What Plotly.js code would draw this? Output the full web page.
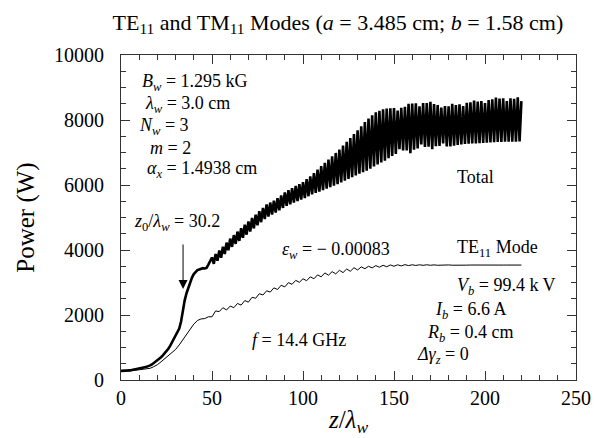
<!DOCTYPE html>
<html>
<head>
<meta charset="utf-8">
<script src="https://cdn.plot.ly/plotly-3.0.1.min.js"></script>
<style>html,body{margin:0;padding:0;background:#fff;}#chart{width:595px;height:438px;}</style>
</head>
<body>
<div id="chart"></div>
<script>
// Total power (W), sampled every 1 unit of z/lambda_w starting at 0
const totalStart = 0;
const totalStep = 1;
const totalPower = [
280,280,278,278,285,295,310,325,340,355,
365,375,385,395,405,420,450,480,520,560,
600,650,700,760,820,880,960,1050,1150,1250,
1340,1450,1580,1800,2150,2450,2670,2850,3000,3150,
3260,3330,3380,3400,3420,3440,3430,3450,3550,3650,
3770,3576,3878,3668,3986,3760,4102,3876,4226,3992,
4350,4096,4458,4188,4566,4280,4672,4376,4776,4472,
4880,4568,4984,4664,5088,4760,5192,4856,5296,4952,
5400,5030,5460,5090,5520,5150,5594,5222,5682,5294,
5770,5356,5838,5408,5906,5460,5970,5504,6030,5548,
6090,5598,6178,5654,6266,5710,6364,5754,6472,5798,
6580,5842,6680,5886,6780,5930,6882,5978,6986,6026,
7090,6078,7210,6134,7330,6190,7448,6242,7564,6294,
7680,6344,7808,6392,7936,6440,8048,6504,8144,6568,
8240,6630,8284,6690,8328,6750,8354,6822,8362,6894,
8370,6956,8290,7100,8378,7060,8406,7064,8500,6980,
8510,7088,8514,7124,8420,7250,8520,7168,8520,7176,
8560,7100,8488,7192,8456,7200,8380,7280,8428,7184,
8420,7190,8500,7208,8462,7230,8482,7246,8430,7262,
8530,7272,8542,7276,8600,7280,8568,7288,8584,7296,
8520,7304,8616,7312,8634,7320,8690,7324,8658,7328,
8670,7330,8580,7330,8670,7330,8650,7330,8700,7340,
8580
];
// TE11 mode power (W), sampled every 2 units of z/lambda_w starting at 0
const te11Start = 0;
const te11Step = 2;
const te11Power = [
280,278,280,290,300,310,325,340,360,410,
470,560,650,740,840,940,1080,1250,1420,1560,
1720,1830,1880,1890,1945,1945,2125,2105,2225,2155,
2275,2225,2355,2305,2445,2395,2545,2515,2655,2615,
2745,2705,2835,2785,2915,2865,2995,2945,3065,3005,
3115,3055,3175,3115,3235,3175,3295,3225,3335,3265,
3375,3305,3415,3345,3455,3385,3480,3425,3500,3450,
3520,3470,3530,3485,3540,3500,3545,3510,3550,3520,
3545,3525,3545,3528,3545,3530,3542,3530,3540,3532,
3540,3532,3538,3533,3538,3534,3538,3535,3538,3535,
3537,3535,3537,3536,3537,3536,3537,3536,3537,3536,
3537
];
const xTickVals = [0,50,100,150,200,250];
const xTickText = ['0','50','100','150','200','250'];
const yTickVals = [0,2000,4000,6000,8000,10000];
const yTickText = ['0','2000','4000','6000','8000','10000'];

const serif = 'Liberation Serif';
const traces = [
  {type:'scatter', mode:'lines', name:'Total', y: totalPower, x0: totalStart, dx: totalStep,
   line:{color:'#000', width:2.6}, hoverinfo:'skip'},
  {type:'scatter', mode:'lines', name:'TE11', y: te11Power, x0: te11Start, dx: te11Step,
   line:{color:'#000', width:1}, hoverinfo:'skip'}
];

function ann(text, x, y, anchor) {
  return {text:text, x:x, y:y, xref:'x', yref:'y', showarrow:false,
          xanchor: anchor || 'left', yanchor:'middle',
          font:{family:serif, size:18, color:'#000'}};
}
const annotations = [
  ann('<i>B</i><sub><i>w</i></sub> = 1.295 kG', 10.4, 9160),
  ann('<i>λ</i><sub><i>w</i></sub> = 3.0 cm', 12.1, 8480),
  ann('<i>N</i><sub><i>w</i></sub> = 3', 8.8, 7815),
  ann('<i>m</i> = 2', 14.8, 7150),
  ann('<i>α</i><sub><i>x</i></sub> = 1.4938 cm', 13.2, 6480),
  ann('<i>z</i><sub>0</sub>/<i>λ</i><sub><i>w</i></sub> = 30.2', 6.0, 4860),
  ann('<i>ε</i><sub><i>w</i></sub> = − 0.00083', 87.4, 4000),
  ann('Total', 183.5, 6250),
  ann('TE<sub>11</sub> Mode', 183.5, 4050),
  ann('<i>V</i><sub><i>b</i></sub> = 99.4 k V', 183.5, 2880),
  ann('<i>I</i><sub><i>b</i></sub> = 6.6 A', 171.4, 2150),
  ann('<i>R</i><sub><i>b</i></sub> = 0.4 cm', 167, 1440),
  ann('<i>Δγ</i><sub><i>z</i></sub> = 0', 161.5, 740),
  ann('<i>f</i> = 14.4 GHz', 70.9, 1230),
  {text:'', x:34.1, y:2800, xref:'x', yref:'y', showarrow:true, ax:0, ay:-46,
   arrowhead:2, arrowsize:1.8, arrowwidth:1, arrowcolor:'#000'}
];

const axisCommon = {
  showgrid:false, zeroline:false, showline:true, linecolor:'#333', linewidth:1,
  mirror:'ticks', ticks:'inside', tickcolor:'#333', tickwidth:1,
  tickfont:{family:serif, size:20, color:'#000'}
};

const layout = {
  width:595, height:438,
  margin:{l:121, r:19, t:55, b:58},
  paper_bgcolor:'#fff', plot_bgcolor:'#fff',
  showlegend:false,
  title:{text:'TE<sub>11</sub> and TM<sub>11</sub> Modes (<i>a</i> = 3.485 cm; <i>b</i> = 1.58 cm)',
         font:{family:serif, size:22, color:'#000'}, x:0.568, xanchor:'center',
         y:0.95, yref:'container', yanchor:'middle'},
  xaxis: Object.assign({}, axisCommon, {
    range:[0,250], tickvals:xTickVals, ticktext:xTickText, ticklen:9,
    minor:{dtick:10, ticks:'inside', ticklen:5, tickcolor:'#333'},
    title:{text:'<i>z</i>/<i>λ</i><sub><i>w</i></sub>', font:{family:serif, size:25, color:'#000'}, standoff:2}
  }),
  yaxis: Object.assign({}, axisCommon, {
    range:[0,10000], tickvals:yTickVals, ticktext:yTickText, ticklen:9,
    minor:{dtick:500, ticks:'inside', ticklen:5, tickcolor:'#333'},
    ticklabelstandoff:12,
    title:{text:'Power (W)', font:{family:serif, size:25, color:'#000'}, standoff:12}
  }),
  annotations: annotations
};

Plotly.newPlot('chart', traces, layout, {staticPlot:true, displayModeBar:false});
</script>
</body>
</html>
